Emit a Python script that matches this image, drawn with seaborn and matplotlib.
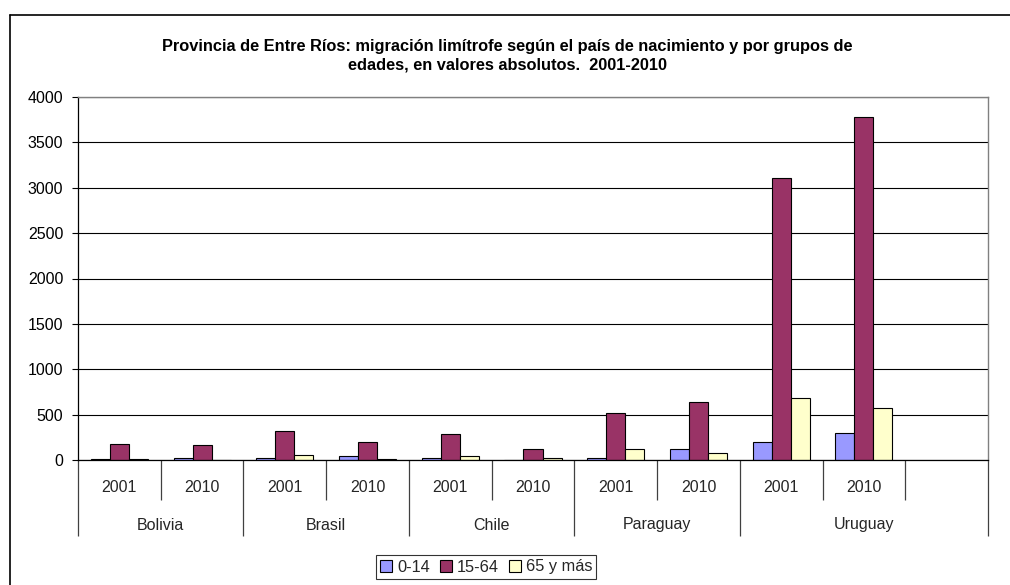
import pandas as pd
import matplotlib.pyplot as plt
import seaborn as sns
from matplotlib.lines import Line2D
from matplotlib.transforms import blended_transform_factory

# Datos
paises = ['Bolivia', 'Brasil', 'Chile', 'Paraguay', 'Uruguay']
anios = ['2001', '2010']
grupos = ['0-14', '15-64', '65 y más']
v_0_14 = [10, 22, 26, 44, 22, 5, 22, 121, 195, 301]
v_15_64 = [180, 165, 320, 195, 286, 121, 518, 643, 3107, 3783]
v_65 = [10, 3, 55, 8, 44, 22, 121, 73, 683, 573]
y_ticks = [0, 500, 1000, 1500, 2000, 2500, 3000, 3500, 4000]
titulo = ('Provincia de Entre Ríos: migración limítrofe según el país de nacimiento y por grupos de\n'
          'edades, en valores absolutos.  2001-2010')

colores = {'0-14': '#9999FF', '15-64': '#993366', '65 y más': '#FFFFCC'}

# tabla larga para seaborn
cats = [f'{p} {a}' for p in paises for a in anios]
rows = []
for g, vals in zip(grupos, [v_0_14, v_15_64, v_65]):
    for c, v in zip(cats, vals):
        rows.append({'cat': c, 'grupo': g, 'valor': v})
df = pd.DataFrame(rows)
orden = cats + ['(vacío)']  # Excel deja una celda vacía al final

sns.set_style('white')
plt.rcParams['font.family'] = ['Liberation Sans', 'DejaVu Sans']

fig = plt.figure(figsize=(10.1, 5.85), dpi=100)
ax = fig.add_axes([78 / 1010, 125 / 585, 910 / 1010, 363 / 585])

sns.barplot(data=df, x='cat', y='valor', hue='grupo', order=orden,
            hue_order=grupos, palette=colores, width=0.69,
            edgecolor='black', linewidth=0.8, saturation=1, ax=ax)

ax.set_ylim(0, 4000)
ax.set_xlim(-0.5, len(orden) - 0.5)
ax.set_yticks(y_ticks)
ax.set_yticklabels([str(t) for t in y_ticks], fontsize=11.5)
ax.yaxis.grid(True, color='black', linewidth=0.8)
ax.set_axisbelow(True)
ax.set_xlabel('')
ax.set_ylabel('')
ax.tick_params(axis='y', left=True, length=4.5, width=0.8, direction='out', pad=6, colors='black')

for s in ['left', 'bottom']:
    ax.spines[s].set_color('black')
    ax.spines[s].set_linewidth(0.9)
for s in ['top', 'right']:
    ax.spines[s].set_color('#808080')
    ax.spines[s].set_linewidth(1.0)

# ejes de categorías en dos niveles
largos = [-0.5, 1.5, 3.5, 5.5, 7.5, len(orden) - 0.5]
cortos = [0.5, 2.5, 4.5, 6.5, 8.5, 9.5]
ax.set_xticks(largos)
ax.set_xticks(cortos, minor=True)
ax.set_xticklabels([''] * len(largos))
ax.tick_params(axis='x', which='major', bottom=True, length=55, width=0.9, color='#404040')
ax.tick_params(axis='x', which='minor', bottom=True, length=29, width=0.9, color='#404040')

tr = blended_transform_factory(ax.transData, ax.transAxes)
for i, c in enumerate(cats):
    ax.text(i, -27 / 363, c.split()[1], transform=tr, ha='center', va='center', fontsize=11.5)
for p, a, b in zip(paises, largos[:-1], largos[1:]):
    ax.text((a + b) / 2, -65 / 363, p, transform=tr, ha='center', va='center', fontsize=11.5)

fig.text(507 / 1010, 1 - 56 / 585, titulo, ha='center', va='center', color='black',
         fontsize=11.8, fontweight='bold', linespacing=1.3)

handles, labels = ax.get_legend_handles_labels()
ax.legend_.remove()
leg = fig.legend(handles, labels, loc='center', bbox_to_anchor=(486 / 1010, 18 / 585),
                 ncol=3, frameon=True, fancybox=False, fontsize=11.8,
                 handlelength=0.75, handleheight=0.75, handletextpad=0.3,
                 columnspacing=0.6, borderpad=0.25, borderaxespad=0)
leg.get_frame().set_edgecolor('black')
leg.get_frame().set_linewidth(0.8)

# borde exterior del gráfico (solo visibles izquierda y arriba)
fig.add_artist(Line2D([10 / 1010, 10 / 1010], [0, 1 - 15 / 585], color='black', linewidth=1.2))
fig.add_artist(Line2D([10 / 1010, 1], [1 - 15 / 585, 1 - 15 / 585], color='black', linewidth=1.2))

fig.savefig('out.png', dpi=100)
